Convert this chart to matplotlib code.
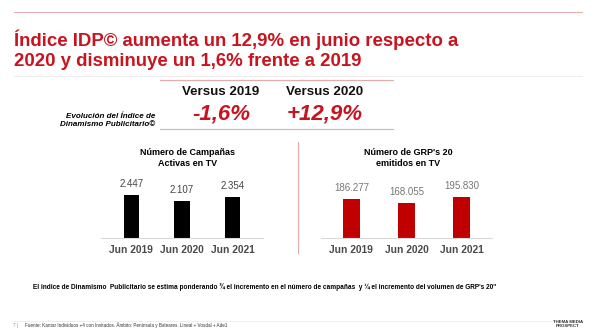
import matplotlib.pyplot as plt
from matplotlib.lines import Line2D

RED = "#c8141e"
BAR_RED = "#c00000"
PINK = "#e8a9a9"

periods = ["Jun 2019", "Jun 2020", "Jun 2021"]
campaigns = [2447, 2107, 2354]
campaign_labels = ["2.447", "2.107", "2.354"]
grps = [186277, 168055, 195830]
grp_labels = ["186.277", "168.055", "195.830"]
versus_titles = ["Versus 2019", "Versus 2020"]
versus_values = ["-1,6%", "+12,9%"]

plt.rcParams["font.family"] = ["Liberation Sans", "DejaVu Sans"]

W, H = 596, 336
fig = plt.figure(figsize=(W / 100, H / 100), dpi=100)


def fx(x):
    return x / W


def fy(y):
    return 1 - y / H


def hline(y, x0, x1, color, lw=0.8):
    fig.add_artist(Line2D([fx(x0), fx(x1)], [fy(y), fy(y)], color=color, lw=lw,
                          transform=fig.transFigure))


# frame lines
hline(12, 14, 582, PINK, 0.7)
hline(76, 14, 582, "#eeeeee", 0.7)
hline(80, 160, 393, PINK, 0.8)
hline(129, 160, 393, PINK, 0.8)
hline(321, 14, 582, "#eeeeee", 0.7)
fig.add_artist(Line2D([fx(298), fx(298)], [fy(142), fy(253)], color=PINK, lw=0.8,
                      transform=fig.transFigure))

# title
fig.text(fx(14), fy(40), "Índice IDP© aumenta un 12,9% en junio respecto a",
         color=RED, fontsize=13.4, fontweight="bold", va="center", ha="left")
fig.text(fx(14), fy(62), "2020 y disminuye un 1,6% frente a 2019",
         color=RED, fontsize=13.4, fontweight="bold", va="center", ha="left")

# versus block
for cx, t, v in zip([221, 325], versus_titles, versus_values):
    fig.text(fx(cx), fy(92), t, fontsize=9.6, fontweight="bold", ha="center", va="center",
             color="#111111")
    fig.text(fx(cx), fy(114), v, fontsize=16, color=RED, fontweight="bold",
             fontstyle="italic", ha="center", va="center")
fig.text(fx(155), fy(116), "Evolución del Índice de", fontsize=5.8, fontstyle="italic",
         fontweight="bold", ha="right", va="center")
fig.text(fx(155), fy(124), "Dinamismo Publicitario©", fontsize=5.8, fontstyle="italic",
         fontweight="bold", ha="right", va="center")

# left panel: campaigns (px per unit ~ 43/2447)
ax1 = fig.add_axes([fx(101), fy(238), fx(162), 88 / H])
ax1.bar(range(3), campaigns, width=0.31, color="black")
ax1.set_ylim(0, 2447 * 88 / 43)
ax1.set_xlim(-0.6, 2.6)
for i, (v, lab) in enumerate(zip(campaigns, campaign_labels)):
    ax1.text(i, v + 2447 * 6 / 43, lab, ha="center", va="bottom", fontsize=7, color="#444444")

# right panel: GRPs
ax2 = fig.add_axes([fx(321), fy(238), fx(171), 88 / H])
ax2.bar(range(3), grps, width=0.31, color=BAR_RED)
ax2.set_ylim(0, 186277 * 88 / 39)
ax2.set_xlim(-0.55, 2.55)
for i, (v, lab) in enumerate(zip(grps, grp_labels)):
    ax2.text(i, v + 186277 * 6 / 39, lab, ha="center", va="bottom", fontsize=7, color="#777777")

for ax in (ax1, ax2):
    for s in ("top", "right", "left"):
        ax.spines[s].set_visible(False)
    ax.spines["bottom"].set_color("#d9d9d9")
    ax.spines["bottom"].set_linewidth(0.8)
    ax.set_yticks([])
    ax.set_xticks(range(3))
    ax.set_xticklabels(periods, fontsize=7.4, fontweight="bold", color="#4a4a4a")
    ax.tick_params(axis="x", length=0, pad=5)
    ax.patch.set_alpha(0)

fig.text(fx(188), fy(153), "Número de Campañas", fontsize=6.5, fontweight="bold",
         ha="center", va="center")
fig.text(fx(188), fy(163), "Activas en TV", fontsize=6.5, fontweight="bold",
         ha="center", va="center")
fig.text(fx(408), fy(153), "Número de GRP's 20", fontsize=6.5, fontweight="bold",
         ha="center", va="center")
fig.text(fx(408), fy(163), "emitidos en TV", fontsize=6.5, fontweight="bold",
         ha="center", va="center")

# footnotes
fig.text(fx(265), fy(287),
         "El indice de Dinamismo  Publicitario se estima ponderando ¾ el incremento en el número "
         "de campañas  y ¼ el incremento del volumen de GRP's 20''",
         fontsize=4.7, fontweight="bold", ha="center", va="center")
fig.text(fx(13), fy(325), "7 |", fontsize=3.5, color="#999999", va="center")
fig.text(fx(25), fy(325),
         "Fuente: Kantar Individuos +4 con Invitados. Ámbito: Península y Baleares. "
         "Lineal + Vosdal + Ade1",
         fontsize=3.3, color="#333333", va="center")
fig.text(fx(568), fy(324), "THEMA MEDIA\nPROSPECT", fontsize=3.2, fontweight="bold",
         ha="center", va="center", color="#333333", linespacing=0.9)

fig.savefig("out.png", dpi=100)
